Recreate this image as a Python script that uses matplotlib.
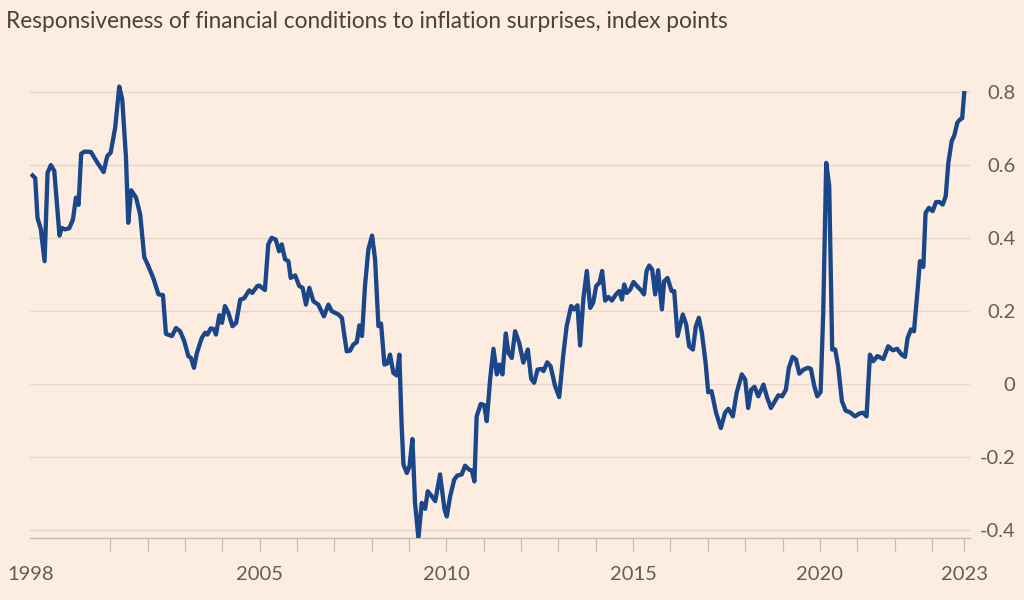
import matplotlib
matplotlib.use("Agg")
import matplotlib.pyplot as plt

# ---- data ----
dates = [
    1998.88, 1998.99, 1999.05, 1999.14, 1999.24, 1999.32, 1999.41, 1999.50, 1999.64, 1999.70,
    1999.79, 1999.90, 2000.00, 2000.08, 2000.15, 2000.22, 2000.31, 2000.48, 2000.64, 2000.82,
    2000.92, 2001.01, 2001.13, 2001.24, 2001.32, 2001.42, 2001.48, 2001.56, 2001.69, 2001.80,
    2001.91, 2002.02, 2002.15, 2002.29, 2002.41, 2002.49, 2002.65, 2002.76, 2002.87, 2002.98,
    2003.09, 2003.16, 2003.24, 2003.32, 2003.45, 2003.54, 2003.60, 2003.69, 2003.78, 2003.83,
    2003.92, 2003.99, 2004.07, 2004.16, 2004.27, 2004.37, 2004.48, 2004.58, 2004.72, 2004.80,
    2004.94, 2004.99, 2005.14, 2005.23, 2005.32, 2005.43, 2005.52, 2005.59, 2005.68, 2005.77,
    2005.83, 2005.95, 2006.06, 2006.15, 2006.24, 2006.33, 2006.44, 2006.57, 2006.72, 2006.84,
    2006.93, 2007.11, 2007.20, 2007.33, 2007.42, 2007.51, 2007.60, 2007.67, 2007.74, 2007.82,
    2007.91, 2008.01, 2008.09, 2008.18, 2008.25, 2008.34, 2008.42, 2008.49, 2008.58, 2008.67,
    2008.74, 2008.80, 2008.85, 2008.94, 2009.01, 2009.09, 2009.16, 2009.25, 2009.34, 2009.43,
    2009.50, 2009.61, 2009.70, 2009.83, 2009.95, 2010.01, 2010.10, 2010.21, 2010.29, 2010.41,
    2010.50, 2010.61, 2010.68, 2010.75, 2010.81, 2010.92, 2011.01, 2011.08, 2011.17, 2011.26,
    2011.35, 2011.42, 2011.50, 2011.59, 2011.66, 2011.75, 2011.84, 2011.95, 2012.06, 2012.18,
    2012.27, 2012.35, 2012.44, 2012.55, 2012.60, 2012.70, 2012.79, 2012.91, 2013.02, 2013.13,
    2013.22, 2013.34, 2013.42, 2013.51, 2013.58, 2013.67, 2013.76, 2013.85, 2013.93, 2014.01,
    2014.10, 2014.17, 2014.25, 2014.34, 2014.43, 2014.54, 2014.63, 2014.70, 2014.76, 2014.83,
    2014.92, 2015.01, 2015.10, 2015.23, 2015.29, 2015.36, 2015.43, 2015.51, 2015.59, 2015.67,
    2015.77, 2015.83, 2015.92, 2016.03, 2016.10, 2016.19, 2016.33, 2016.42, 2016.50, 2016.60,
    2016.68, 2016.76, 2016.84, 2016.94, 2017.01, 2017.10, 2017.22, 2017.35, 2017.46, 2017.55,
    2017.67, 2017.77, 2017.91, 2018.00, 2018.08, 2018.16, 2018.25, 2018.35, 2018.49, 2018.59,
    2018.69, 2018.80, 2018.89, 2018.99, 2019.09, 2019.17, 2019.27, 2019.36, 2019.45, 2019.56,
    2019.68, 2019.76, 2019.85, 2019.93, 2020.02, 2020.09, 2020.17, 2020.25, 2020.33, 2020.41,
    2020.49, 2020.59, 2020.69, 2020.81, 2020.94, 2021.06, 2021.16, 2021.25, 2021.34, 2021.43,
    2021.54, 2021.70, 2021.83, 2021.95, 2022.07, 2022.19, 2022.28, 2022.35, 2022.44, 2022.52,
    2022.61, 2022.68, 2022.77, 2022.83, 2022.92, 2023.02, 2023.11, 2023.20, 2023.29, 2023.37,
    2023.44, 2023.53, 2023.60, 2023.68, 2023.75, 2023.81, 2023.87,
]
values = [
    0.575, 0.563, 0.455, 0.423, 0.336, 0.578, 0.599, 0.583, 0.406, 0.427,
    0.423, 0.426, 0.450, 0.510, 0.490, 0.630, 0.636, 0.635, 0.608, 0.580,
    0.624, 0.633, 0.701, 0.814, 0.779, 0.619, 0.441, 0.530, 0.510, 0.464,
    0.347, 0.322, 0.290, 0.245, 0.243, 0.137, 0.131, 0.153, 0.144, 0.117,
    0.076, 0.071, 0.044, 0.085, 0.126, 0.140, 0.135, 0.152, 0.149, 0.135,
    0.188, 0.167, 0.213, 0.195, 0.158, 0.167, 0.231, 0.234, 0.256, 0.249,
    0.268, 0.269, 0.257, 0.382, 0.400, 0.395, 0.363, 0.382, 0.341, 0.336,
    0.290, 0.297, 0.268, 0.263, 0.217, 0.263, 0.226, 0.217, 0.185, 0.217,
    0.199, 0.190, 0.181, 0.089, 0.091, 0.108, 0.114, 0.160, 0.131, 0.268,
    0.368, 0.406, 0.341, 0.158, 0.165, 0.053, 0.056, 0.080, 0.030, 0.023,
    0.080, -0.111, -0.221, -0.244, -0.226, -0.151, -0.326, -0.422, -0.326, -0.342,
    -0.294, -0.308, -0.321, -0.248, -0.344, -0.363, -0.308, -0.262, -0.251, -0.248,
    -0.224, -0.235, -0.237, -0.267, -0.089, -0.055, -0.058, -0.102, 0.012, 0.096,
    0.026, 0.053, 0.026, 0.138, 0.085, 0.071, 0.144, 0.112, 0.058, 0.094,
    0.014, 0.003, 0.039, 0.041, 0.035, 0.059, 0.048, -0.006, -0.036, 0.080,
    0.158, 0.213, 0.204, 0.215, 0.105, 0.236, 0.309, 0.208, 0.222, 0.268,
    0.277, 0.309, 0.228, 0.238, 0.228, 0.245, 0.254, 0.231, 0.272, 0.249,
    0.258, 0.279, 0.268, 0.254, 0.245, 0.309, 0.324, 0.313, 0.245, 0.311,
    0.204, 0.281, 0.290, 0.254, 0.254, 0.131, 0.190, 0.163, 0.103, 0.094,
    0.158, 0.181, 0.140, 0.058, -0.023, -0.020, -0.079, -0.121, -0.079, -0.068,
    -0.089, -0.025, 0.026, 0.012, -0.066, -0.016, -0.008, -0.034, -0.002, -0.038,
    -0.066, -0.047, -0.031, -0.034, -0.016, 0.044, 0.074, 0.067, 0.028, 0.039,
    0.044, 0.041, -0.006, -0.034, -0.022, 0.195, 0.605, 0.542, 0.094, 0.094,
    0.048, -0.047, -0.073, -0.078, -0.089, -0.081, -0.079, -0.089, 0.080, 0.062,
    0.076, 0.068, 0.103, 0.092, 0.096, 0.080, 0.074, 0.126, 0.149, 0.144,
    0.249, 0.336, 0.320, 0.468, 0.482, 0.473, 0.498, 0.498, 0.491, 0.514,
    0.605, 0.665, 0.680, 0.715, 0.724, 0.727, 0.802,
]

title = "Responsiveness of financial conditions to inflation surprises, index points"
x_label_years = [2005, 2010, 2015, 2020]
x_labels = ["1998", "2005", "2010", "2015", "2020", "2023"]
minor_tick_years = [2001, 2002, 2003, 2004, 2006, 2007, 2008, 2009, 2011, 2012,
                    2013, 2014, 2016, 2017, 2018, 2019, 2021, 2022, 2023]
y_ticks = [-0.4, -0.2, 0, 0.2, 0.4, 0.6, 0.8]
y_labels = ["-0.4", "-0.2", "0", "0.2", "0.4", "0.6", "0.8"]

# ---- style ----
BG = "#FDEDE1"
LINE = "#1A4789"
GRID = "#E6D7CB"
AXIS = "#C6BAB0"
TEXT = "#625C57"
TITLE = "#46413E"
FONT = ["Lato", "DejaVu Sans"]

plt.rcParams["font.family"] = FONT

fig = plt.figure(figsize=(10.24, 6.0), dpi=100, facecolor=BG)
ax = fig.add_axes([30 / 1024, 62 / 600, 940 / 1024, 458 / 600])
ax.set_facecolor(BG)

ax.plot(dates, values, color=LINE, lw=3.1, solid_joinstyle="round",
        solid_capstyle="butt", zorder=3)

ax.set_xlim(1998.85, 2024.02)
ax.set_ylim(-0.422, 0.832)

# grid
ax.set_yticks(y_ticks)
ax.yaxis.grid(True, color=GRID, lw=1.0)
ax.xaxis.grid(False)
ax.set_axisbelow(True)

# y labels on the right, right aligned
ax.yaxis.tick_right()
ax.set_yticklabels(y_labels, ha="right")
ax.tick_params(axis="y", length=0, pad=32.5, labelsize=14.5, labelcolor=TEXT)

# x ticks
major_x = [dates[0]] + x_label_years + [dates[-1]]
ax.set_xticks(major_x)
ax.set_xticklabels(x_labels)
ax.set_xticks(minor_tick_years, minor=True)
ax.tick_params(axis="x", which="both", direction="out", length=9, width=0.9,
               color=AXIS)
ax.tick_params(axis="x", which="major", pad=11, labelsize=14.5, labelcolor=TEXT)
ax.xaxis.get_major_ticks()[0].tick1line.set_visible(False)

for side in ["top", "left", "right"]:
    ax.spines[side].set_visible(False)
ax.spines["bottom"].set_color(AXIS)
ax.spines["bottom"].set_linewidth(1.0)

fig.text(6 / 1024, 1 - 21 / 600, title, ha="left", va="center",
         fontsize=16.3, color=TITLE)

fig.savefig("out.png", dpi=100, facecolor=BG)
